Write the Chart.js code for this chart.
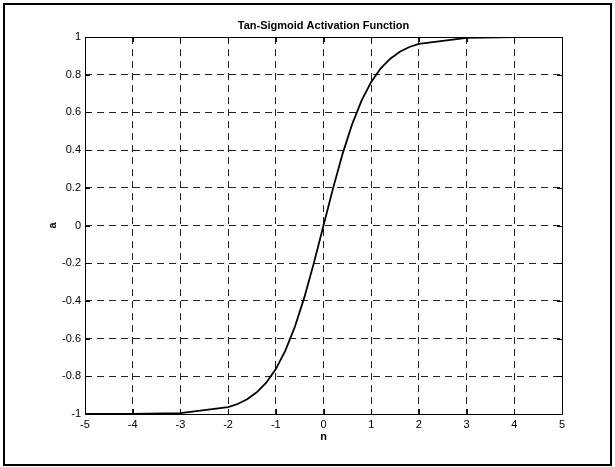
<!DOCTYPE html>
<html>
<head>
<meta charset="utf-8">
<script src="https://cdn.jsdelivr.net/npm/chart.js@4/dist/chart.umd.min.js"></script>
<style>
  html, body { margin: 0; padding: 0; background: #fff; }
  #wrap { width: 615px; height: 467px; position: relative; }
</style>
</head>
<body>
<div id="wrap"><canvas id="c" width="615" height="467"></canvas></div>
<script>
// Net input n and tan-sigmoid output a
const nValues = [-5, -4, -3, -2, -1.8, -1.6, -1.4, -1.2, -1, -0.8, -0.6, -0.4, -0.2,
                 0, 0.2, 0.4, 0.6, 0.8, 1, 1.2, 1.4, 1.6, 1.8, 2, 3, 4, 5];
const aValues = [-1, -1, -0.995, -0.964, -0.947, -0.922, -0.885, -0.834, -0.762, -0.664, -0.537, -0.380, -0.197,
                 0, 0.197, 0.380, 0.537, 0.664, 0.762, 0.834, 0.885, 0.922, 0.947, 0.964, 0.995, 1, 1];
const xTicks = [-5, -4, -3, -2, -1, 0, 1, 2, 3, 4, 5];
const yTicks = [-1, -0.8, -0.6, -0.4, -0.2, 0, 0.2, 0.4, 0.6, 0.8, 1];
const chartTitle = 'Tan-Sigmoid Activation Function';

const FONT = 'Arial, "Liberation Sans", Helvetica, sans-serif';

// Title centred over the axes, solid axes box, inward tick marks on all
// four sides and the outer figure frame
const framePlugin = {
  id: 'frame',
  afterDraw(chart) {
    const { ctx, chartArea: ca, scales } = chart;
    ctx.save();
    ctx.fillStyle = '#000';
    ctx.font = 'bold 11px ' + FONT;
    ctx.textAlign = 'center';
    ctx.textBaseline = 'middle';
    ctx.fillText(chartTitle, (ca.left + ca.right) / 2, ca.top - 11);

    ctx.strokeStyle = '#000';
    ctx.lineWidth = 1;
    ctx.beginPath();
    ctx.rect(Math.round(ca.left) + 0.5, Math.round(ca.top) + 0.5,
             Math.round(ca.right - ca.left), Math.round(ca.bottom - ca.top));
    ctx.stroke();
    const tl = 5;
    ctx.beginPath();
    xTicks.forEach(v => {
      const x = Math.round(scales.x.getPixelForValue(v)) + 0.5;
      ctx.moveTo(x, ca.bottom); ctx.lineTo(x, ca.bottom - tl);
      ctx.moveTo(x, ca.top); ctx.lineTo(x, ca.top + tl);
    });
    yTicks.forEach(v => {
      const y = Math.round(scales.y.getPixelForValue(v)) + 0.5;
      ctx.moveTo(ca.left, y); ctx.lineTo(ca.left + tl, y);
      ctx.moveTo(ca.right, y); ctx.lineTo(ca.right - tl, y);
    });
    ctx.stroke();
    // figure frame
    ctx.lineWidth = 2;
    ctx.strokeRect(4, 4, 607, 461);
    ctx.restore();
  }
};

new Chart(document.getElementById('c'), {
  type: 'scatter',
  data: {
    datasets: [{
      data: nValues.map((n, i) => ({ x: n, y: aValues[i] })),
      showLine: true,
      borderColor: '#000',
      borderWidth: 1.8,
      pointRadius: 0,
      tension: 0,
      fill: false
    }]
  },
  options: {
    responsive: false,
    animation: false,
    devicePixelRatio: 1,
    layout: { padding: { left: 0, right: 53, top: 37, bottom: 0 } },
    plugins: {
      legend: { display: false },
      tooltip: { enabled: false },
      title: { display: false }
    },
    scales: {
      x: {
        type: 'linear',
        min: -5, max: 5,
        afterBuildTicks: s => { s.ticks = xTicks.map(v => ({ value: v })); },
        afterFit: s => { s.height = 53; },
        grid: { color: '#222', lineWidth: 1, drawTicks: false },
        border: { display: false, dash: [7, 5] },
        ticks: {
          color: '#000', padding: 4, maxRotation: 0,
          font: { family: FONT, size: 11 },
          callback: v => String(v)
        },
        title: {
          display: true, text: 'n', color: '#000',
          font: { family: FONT, size: 11, weight: 'bold' },
          padding: { top: 0, bottom: 23 }
        }
      },
      y: {
        type: 'linear',
        min: -1, max: 1,
        afterBuildTicks: s => { s.ticks = yTicks.map(v => ({ value: v })); },
        afterFit: s => { s.width = 85; },
        grid: { color: '#222', lineWidth: 1, drawTicks: false },
        border: { display: false, dash: [7, 5] },
        ticks: {
          color: '#000', padding: 4,
          font: { family: FONT, size: 11 },
          callback: v => String(Math.round(v * 10) / 10)
        },
        title: {
          display: true, text: 'a', color: '#000',
          font: { family: FONT, size: 11, weight: 'bold' },
          padding: { top: 46, bottom: 0 }
        }
      }
    }
  },
  plugins: [framePlugin]
});
</script>
</body>
</html>
